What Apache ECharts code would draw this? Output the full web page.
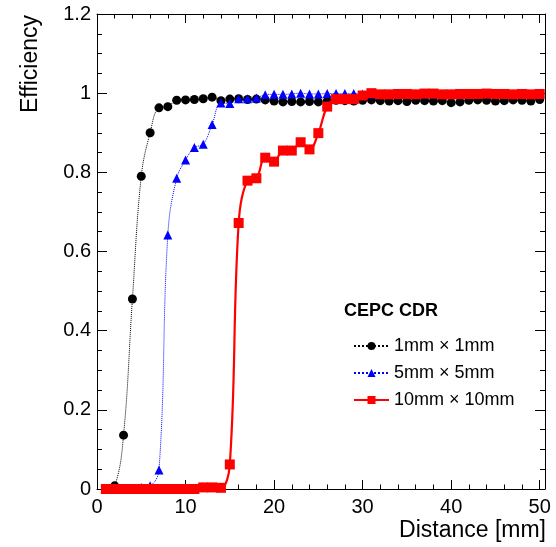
<!DOCTYPE html>
<html><head><meta charset="utf-8">
<script src="https://cdn.jsdelivr.net/npm/echarts@6/dist/echarts.min.js"></script>
<style>html,body{margin:0;padding:0;background:#fff}#c{width:556px;height:547px}</style>
</head><body><div id="c"></div>
<script>
const distance = [1,2,3,4,5,6,7,8,9,10,11,12,13,14,15,16,17,18,19,20,21,22,23,24,25,26,27,28,29,30,31,32,33,34,35,36,37,38,39,40,41,42,43,44,45,46,47,48,49,50];
const eff1mm = [0.000,0.008,0.136,0.480,0.790,0.900,0.963,0.966,0.982,0.983,
  0.984,0.986,0.990,0.981,0.985,0.986,0.984,0.985,0.983,0.980,
  0.978,0.979,0.978,0.979,0.978,0.980,0.982,0.981,0.980,0.982,
  0.983,0.981,0.980,0.981,0.979,0.982,0.981,0.980,0.981,0.976,
  0.978,0.982,0.983,0.982,0.980,0.981,0.983,0.982,0.980,0.984];
const eff5mm = [0.000,0.000,0.000,0.000,0.004,0.008,0.048,0.642,0.785,0.831,
  0.863,0.871,0.921,0.975,0.974,0.986,0.986,0.988,0.996,0.997,
  0.997,0.998,1.000,0.998,0.998,0.999,0.999,0.999,0.999,0.998,
  0.998,0.997,0.998,0.998,0.997,0.998,0.998,0.998,0.997,0.998,
  0.998,0.998,0.997,0.998,0.998,0.998,0.997,0.998,0.997,0.998];
const eff10mm = [0.000,0.000,0.000,0.000,0.000,0.000,0.000,0.000,0.000,0.000,
  0.000,0.004,0.004,0.003,0.062,0.672,0.779,0.785,0.837,0.827,
  0.855,0.855,0.876,0.858,0.899,0.966,0.985,0.985,0.985,0.994,
  1.000,0.997,0.997,0.998,0.998,0.997,0.999,0.999,0.997,0.997,
  0.998,0.998,0.998,0.999,0.998,0.998,0.997,0.998,0.997,0.998];
const seriesNames = ['1mm \u00d7 1mm', '5mm \u00d7 5mm', '10mm \u00d7 10mm'];
const xTickLabels = [0, 10, 20, 30, 40, 50];
const yTickLabels = [0, 0.2, 0.4, 0.6, 0.8, 1, 1.2];
const legendTitle = 'CEPC CDR';
const xTitle = 'Distance [mm]';
const yTitle = 'Efficiency';

const FONT = '"Liberation Sans", Arial, Helvetica, sans-serif';
const XMAX = 50.6;
const chart = echarts.init(document.getElementById('c'), null, {renderer: 'canvas'});
const pairs = arr => distance.map((x, i) => [x, arr[i]]);
const lineCol = '#000';

function xAxisDef(pos, step, tickLen, main) {
  return {
    type: 'value', position: pos, min: 0, max: XMAX, interval: step,
    axisLine: {show: main, onZero: false, lineStyle: {color: lineCol, width: 1}},
    axisTick: {show: true, inside: true, length: tickLen, lineStyle: {color: lineCol, width: 1}},
    minorTick: {show: false},
    splitLine: {show: false},
    axisLabel: {
      show: main && pos === 'bottom', color: '#000', fontSize: 20, fontFamily: FONT, margin: 8,
      formatter: v => xTickLabels.indexOf(Math.round(v * 1000) / 1000) >= 0 ? String(v) : ''
    },
    name: (main && pos === 'bottom') ? xTitle : '',
    nameLocation: 'end', nameGap: 1,
    nameTextStyle: {fontSize: 23, fontFamily: FONT, color: '#000', align: 'right', verticalAlign: 'top', padding: [30, 0, 0, 0]}
  };
}
function yAxisDef(pos) {
  const left = pos === 'left';
  return {
    type: 'value', position: pos, min: 0, max: 1.2, interval: 0.2,
    axisLine: {show: true, onZero: false, lineStyle: {color: lineCol, width: 1}},
    axisTick: {show: true, inside: true, length: 10, lineStyle: {color: lineCol, width: 1}},
    minorTick: {show: true, splitNumber: 4, length: 5, lineStyle: {color: lineCol, width: 1}},
    splitLine: {show: false},
    axisLabel: {
      show: left, color: '#000', fontSize: 20, fontFamily: FONT, margin: 6,
      formatter: v => yTickLabels.indexOf(Math.round(v * 1000) / 1000) >= 0 ? String(Math.round(v * 10) / 10) : ''
    },
    name: left ? yTitle : '',
    nameLocation: 'end', nameRotate: 90, nameGap: -1,
    nameTextStyle: {fontSize: 23, fontFamily: FONT, color: '#000', align: 'right', verticalAlign: 'bottom', padding: [0, 0, 55, 0]}
  };
}

const option = {
  animation: false,
  backgroundColor: '#fff',
  grid: {left: 97, right: 11, top: 14, bottom: 58, containLabel: false},
  title: {
    text: legendTitle, left: 339, top: 297,
    textStyle: {fontSize: 18, fontWeight: 'bold', fontFamily: FONT, color: '#000'}
  },
  legend: {
    orient: 'vertical', left: 348, top: 332, itemGap: 9, itemWidth: 35, itemHeight: 10,
    textStyle: {fontSize: 18, fontFamily: FONT, color: '#000'},
    data: seriesNames
  },
  xAxis: [
    xAxisDef('bottom', 10, 9, true),
    xAxisDef('bottom', 2, 4.5, false),
    xAxisDef('top', 10, 9, true),
    xAxisDef('top', 2, 4.5, false)
  ],
  yAxis: [yAxisDef('left'), yAxisDef('right')],
  series: [
    {
      type: 'line', name: seriesNames[0], data: pairs(eff1mm), xAxisIndex: 0, yAxisIndex: 0,
      smooth: 0.4, symbol: 'circle', symbolSize: 9, z: 2,
      itemStyle: {color: '#000'}, lineStyle: {color: '#000', width: 1, type: 'dotted'}
    },
    {
      type: 'line', name: seriesNames[1], data: pairs(eff5mm), xAxisIndex: 0, yAxisIndex: 0,
      smooth: 0.4, symbol: 'triangle', symbolSize: 9, z: 3,
      itemStyle: {color: '#0000ff'}, lineStyle: {color: '#0000ff', width: 1, type: 'dotted'}
    },
    {
      type: 'line', name: seriesNames[2], data: pairs(eff10mm), xAxisIndex: 0, yAxisIndex: 0,
      smooth: 0.4, symbol: 'rect', symbolSize: 10, z: 4,
      itemStyle: {color: '#ff0000'}, lineStyle: {color: '#ff0000', width: 2.2, type: 'solid'}
    }
  ]
};
chart.setOption(option);
</script></body></html>
